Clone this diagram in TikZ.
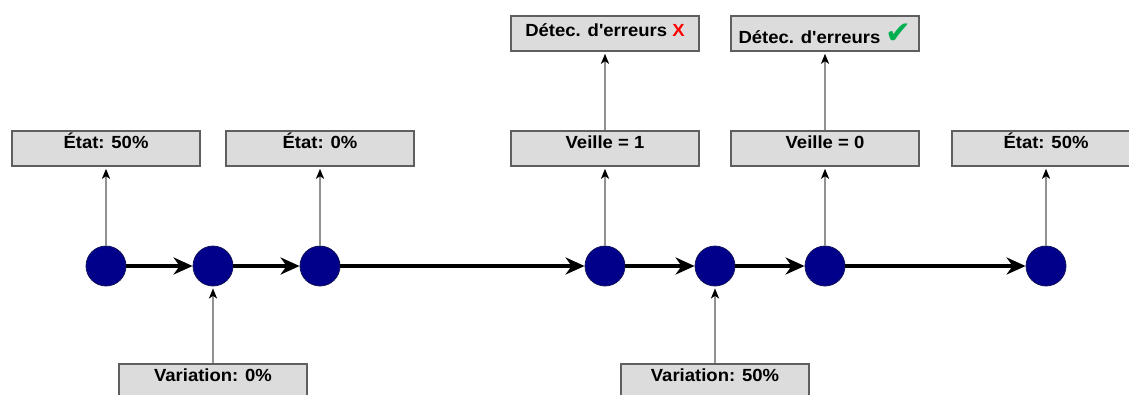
\documentclass[tikz,border=0pt]{standalone}
\usepackage{fontspec}
\setmainfont{Liberation Sans}[Ligatures=TeXOff]
\newfontfamily\symfont{DejaVu Sans}
\usetikzlibrary{arrows.meta}
\definecolor{boxfill}{RGB}{220,220,220}
\definecolor{boxline}{RGB}{95,95,95}
\definecolor{navyfill}{RGB}{0,0,139}
\definecolor{navyline}{RGB}{20,20,90}
\definecolor{linkgray}{RGB}{145,145,145}
\definecolor{okgreen}{RGB}{0,176,80}
\newcommand{\lbl}[1]{\scalebox{1}[0.95]{\fontsize{18.5}{20}\selectfont\bfseries #1}}
\begin{document}
\begin{tikzpicture}[x=1pt,y=-1pt,
 state/.style={circle,fill=navyfill,draw=navyline,line width=0.8pt,minimum size=40pt,inner sep=0pt},
 infobox/.style={rectangle,fill=boxfill,draw=boxline,line width=1.5pt,minimum width=188pt,inner xsep=0pt,inner ysep=0pt,text height=17pt,text depth=18pt},
 flow/.style={line width=3.6pt,-{Stealth[length=19pt,width=17pt,inset=6pt]}},
 link/.style={draw=linkgray,line width=1.8pt,-{Stealth[length=10pt,width=8pt,inset=2.5pt,color=black]},shorten >=2pt}]
\useasboundingbox (0,0) rectangle (1129,394);
\clip (0,0) rectangle (1129,394);
% states
\node[state] (s1) at (106,266) {};
\node[state] (s2) at (213,266) {};
\node[state] (s3) at (320,266) {};
\node[state] (s4) at (605,266) {};
\node[state] (s5) at (715,266) {};
\node[state] (s6) at (825,266) {};
\node[state] (s7) at (1046,266) {};
% boxes
\node[infobox] (e1) at (106,148.5) {\lbl{État: 50\%}};
\node[infobox] (e2) at (320,148.5) {\lbl{État: 0\%}};
\node[infobox] (v1) at (605,148.5) {\lbl{Veille = 1}};
\node[infobox] (v0) at (825,148.5) {\lbl{Veille = 0}};
\node[infobox] (e3) at (1046,148.5) {\lbl{État: 50\%}};
\node[infobox,text height=20pt,text depth=15pt] (d1) at (605,33.5) {\lbl{Détec. d'erreurs \textcolor{red}{X}}};
\node[infobox,text height=27pt,text depth=8pt] (d0) at (825,33.5) {\lbl{Détec. d'erreurs }{\symfont\fontsize{31}{33}\selectfont\textcolor{okgreen}{✔}}};
\node[infobox] (var0) at (213,381.5) {\lbl{Variation: 0\%}};
\node[infobox] (var50) at (715,381.5) {\lbl{Variation: 50\%}};
% flow
\draw[flow] (s1) -- (s2);
\draw[flow] (s2) -- (s3);
\draw[flow] (s3) -- (s4);
\draw[flow] (s4) -- (s5);
\draw[flow] (s5) -- (s6);
\draw[flow] (s6) -- (s7);
% links
\draw[link] (s1) -- (e1);
\draw[link] (s3) -- (e2);
\draw[link] (s4) -- (v1);
\draw[link] (v1) -- (d1);
\draw[link] (s6) -- (v0);
\draw[link] (v0) -- (d0);
\draw[link] (s7) -- (e3);
\draw[link] (var0) -- (s2);
\draw[link] (var50) -- (s5);
\end{tikzpicture}
\end{document}
